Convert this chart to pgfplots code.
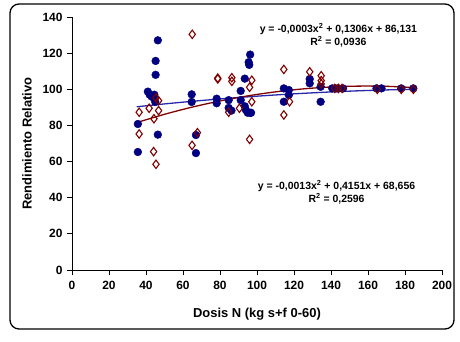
\documentclass[border=0pt]{standalone}
\usepackage{fontspec}
\setmainfont{Liberation Sans}
\usepackage{pgfplots}
\pgfplotsset{compat=1.18}
\definecolor{navyb}{RGB}{0,0,128}
\definecolor{darkr}{RGB}{128,0,0}
\definecolor{trendb}{RGB}{40,40,170}
\begin{document}
\begin{tikzpicture}
\begin{axis}[
  name=ax,
  x=1.85bp, y=1.807bp,
  xmin=0, xmax=200, ymin=0, ymax=140,
  axis x line=bottom, axis y line=left,
  axis line style={-, black, line width=0.8bp},
  xtick={0,20,...,200}, ytick={0,20,...,140},
  tick align=outside, major tick length=5bp,
  tick style={black, line width=0.8bp},
  /pgf/number format/assume math mode=true,
  ticklabel style={font=\fontsize{12}{14}\selectfont\bfseries},
  xticklabel style={yshift=-3bp},
  yticklabel style={xshift=-1bp},
  xlabel={Dosis N (kg s+f 0-60)},
  ylabel={Rendimiento Relativo},
  label style={font=\fontsize{13}{15}\selectfont\bfseries},
  xlabel style={at={(axis cs:100,-24.5)}, anchor=center},
  ylabel style={at={(axis cs:-24.3,70)}, anchor=center},
  clip=false,
]
% series 1: filled navy circles
\addplot[only marks, mark=*, mark size=3.9bp, navyb, mark options={fill=navyb, draw=navyb}] coordinates {
(35.6,65.3) (35.6,80.8) (41,98.7) (42,97) (43,96) (44,95.5) (45,93) (44.5,97)
(46.4,127.1) (45.2,115.7) (45.2,108) (46.4,74.9)
(64.7,97.2) (64.7,93) (67,74.7) (67,64.7)
(78.2,94.8) (78.2,92.3) (84.7,94) (84.7,89.7) (86.2,88.2)
(91.2,99.1) (91.2,94) (93.4,105.9) (93.4,90.6) (94,88.5) (95,87) (96.3,87)
(96.3,119.2) (95.5,115) (95.8,113.5) (96.8,87)
(114.5,100.5) (114.5,93.1) (117.2,99.6) (117.2,96.8)
(128.5,105.7) (128.5,103.3) (134.4,101.4) (134.4,93.1)
(140.7,100.5) (142.5,100.5) (144,100.5) (146.5,100.5)
(164.6,100.5) (167.3,100.5) (178,100.5) (184.5,100.5)
};
% series 2: open dark red diamonds
\addplot[only marks, mark=diamond, mark size=4.2bp, darkr, mark options={draw=darkr, fill=white, line width=1.1bp}] coordinates {
(36.3,87.3) (36.3,75.3) (41.7,89.5) (44.1,65.5) (45.4,58.5) (44.3,83.7)
(46.8,93.7) (46.8,88.2) (45.4,95.3)
(65,130.4) (64.9,69) (67.8,76)
(78.8,105.7) (78.8,106.2) (86.4,106.4) (86.4,104.4) (84.7,87.3) (90.5,89.5)
(97.2,105) (96,101.1) (97.2,93.1) (96,72.3)
(114.5,111) (114.5,85.8) (117.6,93.1)
(128.5,109.7) (134.7,107.5) (134.7,104.8) (134.7,103)
(142,100.5) (144,100.5) (146,100.5)
(165,100) (178,100) (184.5,100)
};
% trend lines
\addplot[smooth, trendb, line width=1.3bp] coordinates {
(35,90.33) (50,91.91) (65,93.35) (80,94.66) (95,95.83) (110,96.87)
(125,97.77) (140,98.54) (155,99.17) (170,99.66) (185,100.02)
};
\addplot[smooth, darkr, line width=1.3bp] coordinates {
(35,81.59) (50,86.16) (65,90.15) (80,93.54) (95,96.36) (110,98.59)
(125,100.23) (140,101.29) (155,101.76) (170,101.65) (185,100.96)
};
\node[font=\fontsize{10.5}{12}\selectfont\bfseries, align=center, inner sep=0pt] at (axis cs:144,130) {y = -0,0003x\textsuperscript{2} + 0,1306x + 86,131\\[1pt] R\textsuperscript{2} = 0,0936};
\node[font=\fontsize{10.5}{12}\selectfont\bfseries, align=center, inner sep=0pt] at (axis cs:143,43) {y = -0,0013x\textsuperscript{2} + 0,4151x + 68,656\\[1pt] R\textsuperscript{2} = 0,2596};
\end{axis}
\draw[black, line width=1.3bp, rounded corners=9bp] ([shift={(-62bp,-59bp)}]ax.south west) rectangle ([shift={(382bp,266bp)}]ax.south west);
\path[use as bounding box] ([shift={(-72bp,-72bp)}]ax.south west) rectangle ([shift={(388bp,270bp)}]ax.south west);
\end{tikzpicture}
\end{document}
